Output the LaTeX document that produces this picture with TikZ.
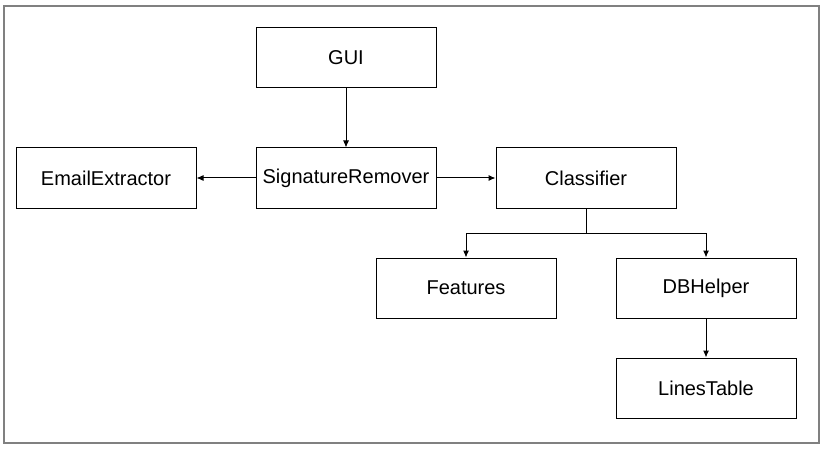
\documentclass[tikz,border=0pt]{standalone}
\usepackage{fontspec}
\setmainfont{Liberation Sans}
\usetikzlibrary{positioning}
\usetikzlibrary{arrows.meta}

\tikzset{
	module/.style={draw, line width=1pt, minimum width=180pt, minimum height=60pt, inner sep=0pt, font=\fontsize{20}{24}\selectfont},
	link/.style={-{Latex[length=7pt, width=6pt]}, line width=1pt},
}

\begin{document}
\begin{tikzpicture}[x=1pt, y=-1pt]
	\useasboundingbox (0,0) rectangle (824,449);
	\draw[gray, line width=1.5pt] (4,6) rectangle (819,443);
	
	\node[module] (gui) at (346,58) {GUI};
	\node[module] (remover) at (346,178) {SignatureRemover};
	\node[module] (extractor) at (106,178) {EmailExtractor};
	\node[module] (classifier) at (586,178) {Classifier};
	\node[module] (features) at (466,288) {Features};
	\node[module] (dbhelper) at (706,288) {DBHelper};
	\node[module] (lines) at (706,388) {LinesTable};
	
	\draw[link] (gui) -- (remover);
	\draw[link] (remover) -- (extractor);
	\draw[link] (remover) -- (classifier);
	
	\draw[line width=1pt] (classifier.south) -- ++(0,25) coordinate (split);
	\draw[link] (split) -| (features);
	\draw[link] (split) -| (dbhelper);
	\draw[link] (dbhelper) -- (lines);
\end{tikzpicture}
\end{document}
